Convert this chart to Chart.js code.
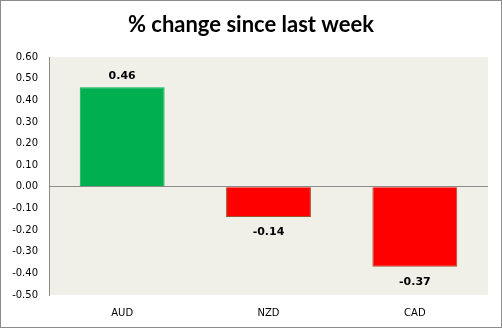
<!DOCTYPE html>
<html>
<head>
<meta charset="utf-8">
<script src="https://cdn.jsdelivr.net/npm/chart.js@4/dist/chart.umd.min.js"></script>
<style>
  html, body { margin: 0; padding: 0; background: #fff; }
  canvas { display: block; }
</style>
</head>
<body>
<canvas id="bar" width="502" height="328"></canvas>
<script>
var categories = ["AUD", "NZD", "CAD"];
var changes = [0.46, -0.14, -0.37];
var tickValues = [0.6, 0.5, 0.4, 0.3, 0.2, 0.1, 0, -0.1, -0.2, -0.3, -0.4, -0.5];
var titleText = "% change since last week";

var barColors = changes.map(function (v) {
  return v >= 0 ? "#00b050" : "#ff0000";
});
var barBorders = changes.map(function (v) {
  return v >= 0 ? "#00b050" : "#a0522d";
});

// frame around the whole picture, plot area fill and the title
var framePlugin = {
  id: "frame",
  beforeDraw: function (chart) {
    var c = chart.ctx, a = chart.chartArea;
    c.save();
    c.fillStyle = "#ffffff";
    c.fillRect(0, 0, chart.width, chart.height);
    c.fillStyle = "#f0f0e8";
    c.fillRect(a.left, a.top, a.right - a.left, a.bottom - a.top);
    c.strokeStyle = "#8c8c8c";
    c.lineWidth = 1;
    c.strokeRect(0.5, 0.5, chart.width - 1, chart.height - 1);
    c.font = "bold 22px Lato";
    c.fillStyle = "#000";
    c.textAlign = "center";
    c.textBaseline = "middle";
    c.fillText(titleText, 251, 25);
    c.restore();
  }
};

// value labels above / below each bar
var labelPlugin = {
  id: "valueLabels",
  afterDatasetsDraw: function (chart) {
    var c = chart.ctx;
    var meta = chart.getDatasetMeta(0);
    c.save();
    c.font = "bold 11px 'DejaVu Sans'";
    c.fillStyle = "#000";
    c.textAlign = "center";
    meta.data.forEach(function (bar, i) {
      var v = changes[i];
      if (v >= 0) {
        c.textBaseline = "bottom";
        c.fillText(v.toFixed(2), bar.x, bar.y - 6);
      } else {
        c.textBaseline = "top";
        c.fillText(v.toFixed(2), bar.x, bar.y + 10);
      }
    });
    c.restore();
  }
};

new Chart(document.getElementById("bar"), {
  type: "bar",
  data: {
    labels: categories,
    datasets: [
      {
        data: changes,
        backgroundColor: barColors,
        borderColor: barBorders,
        borderWidth: 1,
        categoryPercentage: 1,
        barPercentage: 0.58
      }
    ]
  },
  options: {
    responsive: false,
    animation: false,
    layout: { padding: { left: 0, right: 14, top: 57, bottom: 0 } },
    plugins: {
      legend: { display: false },
      tooltip: { enabled: false },
      title: { display: false }
    },
    scales: {
      x: {
        grid: { display: false },
        border: { display: false },
        afterFit: function (axis) { axis.height = 33; },
        ticks: {
          color: "#000",
          font: { family: "DejaVu Sans", size: 10 },
          padding: 4
        }
      },
      y: {
        min: -0.5,
        max: 0.6,
        afterBuildTicks: function (axis) {
          axis.ticks = tickValues.map(function (v) { return { value: v }; });
        },
        afterFit: function (axis) { axis.width = 49; },
        grid: {
          drawTicks: false,
          color: function (ctx) {
            return ctx.tick && Math.abs(ctx.tick.value) < 1e-9 ? "#8c8c8c" : "rgba(0,0,0,0)";
          }
        },
        border: { display: true, color: "#8c8c8c" },
        ticks: {
          color: "#000",
          font: { family: "DejaVu Sans", size: 10 },
          padding: 11,
          callback: function (v) { return Number(v).toFixed(2); }
        }
      }
    }
  },
  plugins: [framePlugin, labelPlugin]
});
</script>
</body>
</html>
